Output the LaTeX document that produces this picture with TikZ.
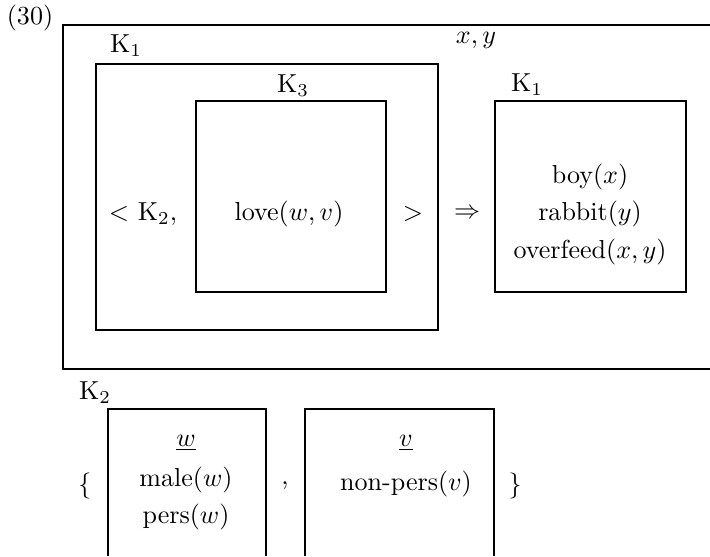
\documentclass[tikz,border=0pt]{standalone}
\usepackage{amssymb}
\usepackage{xcolor}
\usepackage{tikz}
\tikzset{
  drsbox/.style={line width=0.6pt, draw=black, line join=miter},
  drsopen/.style={line width=0.6pt, draw=black, line cap=butt},
  drstext/.style={inner sep=0pt, outer sep=0pt, anchor=center},
  drslabel/.style={inner sep=0pt, outer sep=0pt, anchor=center},
}

\begin{document}
\begin{tikzpicture}[x=0.0135cm, y=-0.0135cm]
\useasboundingbox (0,0) rectangle (710,556);
% example number
\node[drstext] (exnum) at (30,18) {(30)};
% outer box, open on the right
\draw[drsopen] (710,25) -- (63,25) -- (63,369) -- (710,369);
\node[drslabel] (uvars) at (476,40) {$x,y$};
% antecedent box
\node[drslabel] (konelabel) at (126,46) {K$_1$};
\draw[drsbox] (96,64) rectangle (438,330);
\node[drstext] (ktworef) at (143,214) {$<$ K$_2$,};
\node[drslabel] (kthreelabel) at (293,86) {K$_3$};
\draw[drsbox] (196,101) rectangle (386,292);
\node[drstext] (love) at (289,214) {love$(w,v)$};
\node[drstext] (rangle) at (413,214) {$>$};
\node[drstext] (impl) at (467,214) {$\Rightarrow$};
% consequent box
\node[drslabel] (kconlabel) at (527,85) {K$_1$};
\draw[drsbox] (495,101) rectangle (686,292);
\node[drstext] (boy) at (590,177) {boy$(x)$};
\node[drstext] (rabbit) at (590,214) {rabbit$(y)$};
\node[drstext] (overfeed) at (590,252) {overfeed$(x,y)$};
% K2 set of boxes
\node[drslabel] (ktwolabel) at (95,393) {K$_2$};
\node[drstext] (lbrace) at (85,486) {$\{$};
\draw[drsopen] (108,556) -- (108,409) -- (266,409) -- (266,556);
\node[drstext] (wref) at (186,443) {$\underline{w}$};
\node[drstext] (male) at (186,480) {male$(w)$};
\node[drstext] (pers) at (186,517) {pers$(w)$};
\node[drstext] (comma) at (285,486) {,};
\draw[drsopen] (305,556) -- (305,409) -- (494,409) -- (494,556);
\node[drstext] (vref) at (406,443) {$\underline{v}$};
\node[drstext] (nonpers) at (406,484) {non-pers$(v)$};
\node[drstext] (rbrace) at (515,486) {$\}$};
\end{tikzpicture}
\end{document}
